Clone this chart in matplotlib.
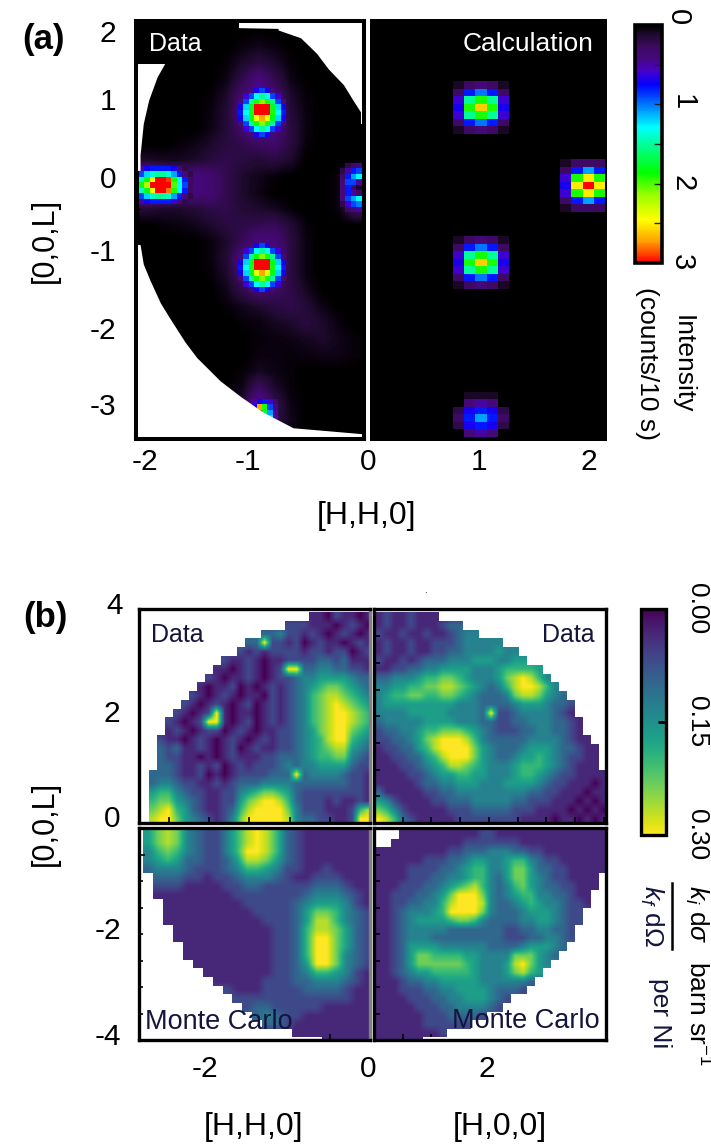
import numpy as np
import matplotlib
matplotlib.use('Agg')
import matplotlib.pyplot as plt
from matplotlib.cm import ScalarMappable
from matplotlib.colors import LinearSegmentedColormap, Normalize
from matplotlib.ticker import MultipleLocator

plt.rcParams['font.family'] = ['Liberation Sans', 'DejaVu Sans']
plt.rcParams['mathtext.fontset'] = 'custom'
plt.rcParams['mathtext.rm'] = 'Liberation Sans'
plt.rcParams['mathtext.it'] = 'Liberation Sans:italic'

W, H = 711, 1144
NAVY = '#14143c'

# ---- panel (a), broad haze, in 1/70 of counts/10 s
A_HAZE = [
    [0, 0, 0, 0, 0, 0, 0, 0, 0, 0, 0, 0, 0, 0],
    [0, 0, 0, 0, 0, 0, 3, 5, 3, 0, 0, 0, 0, 0],
    [0, 0, 0, 0, 0, 2, 8, 12, 8, 2, 0, 0, 0, 0],
    [0, 0, 0, 0, 0, 4, 15, 30, 15, 4, 0, 0, 0, 0],
    [0, 0, 0, 0, 2, 8, 25, 40, 25, 8, 2, 0, 0, 0],
    [0, 0, 0, 0, 3, 10, 30, 50, 30, 10, 3, 0, 0, 0],
    [0, 0, 0, 0, 4, 10, 25, 40, 30, 12, 3, 0, 0, 0],
    [0, 0, 2, 4, 8, 12, 15, 20, 22, 12, 2, 0, 0, 0],
    [8, 6, 6, 8, 12, 15, 12, 10, 12, 8, 0, 0, 0, 0],
    [45, 40, 30, 30, 25, 15, 8, 5, 2, 0, 0, 0, 3, 30],
    [45, 40, 30, 30, 25, 15, 8, 4, 0, 0, 0, 0, 3, 30],
    [10, 8, 8, 10, 14, 15, 10, 8, 6, 2, 0, 0, 3, 20],
    [0, 2, 3, 5, 8, 12, 14, 16, 18, 10, 2, 0, 0, 0],
    [0, 0, 0, 0, 3, 8, 18, 30, 28, 12, 3, 0, 0, 0],
    [0, 0, 0, 0, 3, 10, 30, 50, 35, 12, 3, 0, 0, 0],
    [0, 0, 0, 0, 2, 8, 25, 40, 30, 12, 3, 0, 0, 0],
    [0, 0, 0, 0, 0, 5, 15, 25, 20, 14, 6, 0, 0, 0],
    [0, 0, 0, 0, 0, 2, 5, 8, 12, 15, 10, 4, 0, 0],
    [0, 0, 0, 0, 0, 0, 2, 3, 6, 8, 12, 8, 3, 0],
    [0, 0, 0, 0, 0, 0, 0, 2, 3, 4, 6, 8, 5, 2],
    [0, 0, 0, 0, 0, 0, 0, 3, 3, 2, 3, 4, 4, 2],
    [0, 0, 0, 0, 0, 0, 2, 6, 4, 2, 0, 0, 0, 0],
    [0, 0, 0, 0, 0, 0, 5, 20, 8, 2, 0, 0, 0, 0],
    [0, 0, 0, 0, 0, 0, 10, 40, 15, 4, 0, 0, 0, 0],
    [0, 0, 0, 0, 0, 0, 8, 30, 15, 5, 0, 0, 0, 0],
    [0, 0, 0, 0, 0, 0, 0, 0, 0, 0, 0, 0, 0, 0],
]

# peaks, in tenths of counts/10 s, 0 = see through to the haze
PEAK_M1 = [
    [0, 0, 4, 7, 9, 7, 4, 0, 0],
    [0, 6, 9, 13, 15, 13, 9, 6, 0],
    [4, 9, 15, 19, 21, 19, 15, 9, 4],
    [7, 12, 18, 30, 30, 30, 18, 12, 7],
    [8, 13, 19, 30, 30, 30, 19, 13, 8],
    [7, 12, 18, 24, 27, 24, 18, 12, 7],
    [4, 9, 15, 19, 21, 19, 15, 9, 4],
    [0, 6, 9, 13, 15, 13, 9, 6, 0],
    [0, 0, 4, 7, 9, 7, 4, 0, 0],
]
PEAK_M2 = [
    [5, 7, 8, 8, 8, 8, 7, 4, 2, 0],
    [9, 12, 14, 15, 15, 14, 11, 8, 4, 2],
    [14, 18, 24, 30, 30, 29, 19, 13, 8, 3],
    [18, 22, 30, 30, 30, 30, 20, 13, 9, 3],
    [14, 18, 24, 30, 30, 28, 19, 13, 8, 3],
    [9, 12, 14, 15, 15, 14, 11, 8, 4, 2],
    [5, 7, 8, 8, 8, 8, 6, 4, 2, 0],
]
PEAK_ZERO = [
    [0, 2, 3, 4],
    [2, 5, 8, 9],
    [3, 8, 11, 13],
    [4, 9, 9, 5],
    [4, 8, 3, 1],
    [4, 8, 5, 3],
    [4, 9, 11, 13],
    [2, 6, 9, 10],
    [0, 3, 4, 5],
]
PEAK_M3 = [
    [3, 5, 7, 8, 6, 3],
    [4, 7, 27, 19, 9, 4],
    [4, 8, 29, 17, 11, 5],
    [3, 6, 12, 13, 12, 5],
]

# white parts of the data panel: L row and the H where the data starts or stops
UPPER_RIGHT_L = [2.12, 2.03, 2.02, 2.0, 1.9, 1.7, 1.5, 1.3, 1.1, 0.95, 0.8]
UPPER_RIGHT_H = [-1.22, -1.22, -0.85, -0.85, -0.64, -0.49, -0.38, -0.24, -0.15, -0.08, -0.08]
UPPER_LEFT_L = [1.57, 1.4, 1.1, 0.8, 0.4, 0.2]
UPPER_LEFT_H = [-1.91, -1.98, -2.06, -2.11, -2.14, -2.14]
LOWER_LEFT_L = [-0.75, -1.0, -1.2, -1.5, -1.7, -2.0, -2.2, -2.5, -2.7, -2.9, -3.1, -3.18, -3.26]
LOWER_LEFT_H = [-2.14, -2.11, -2.05, -1.95, -1.86, -1.72, -1.61, -1.39, -1.2, -0.99, -0.71, -0.03, -0.03]

CALC_11 = [
    [0, 1, 3, 4, 3, 1, 0],
    [0, 3, 8, 10, 8, 3, 0],
    [0, 6, 15, 19, 15, 6, 0],
    [0, 7, 19, 26, 19, 7, 0],
    [0, 6, 15, 19, 15, 6, 0],
    [0, 3, 8, 10, 8, 3, 0],
    [0, 1, 3, 4, 3, 1, 0],
]
CALC_20 = [
    [0, 1, 3, 3, 3],
    [0, 3, 8, 11, 8],
    [0, 6, 19, 25, 19],
    [0, 7, 25, 30, 25],
    [0, 6, 19, 25, 19],
    [0, 3, 8, 11, 8],
    [0, 1, 3, 3, 3],
]
CALC_13 = [
    [0, 0, 1, 1, 1, 0, 0],
    [0, 0, 4, 5, 4, 0, 0],
    [0, 2, 7, 8, 7, 2, 0],
    [0, 3, 8, 11, 8, 3, 0],
    [0, 2, 7, 8, 7, 2, 0],
    [0, 0, 4, 5, 4, 0, 0],
]

# ---- panel (b), one digit per cell, 0..9 = 0..0.30, dot = no data
B_DATA_LEFT = [
    ".....................11021101",
    "..................22211101210",
    "...............33422121012101",
    ".............3392212012110121",
    "............21212222122122012",
    "..........2112101122223323111",
    ".........11012101299334433221",
    "........210112101223445555433",
    ".......1011201012123456776543",
    "......21012101102123467887654",
    ".....210121012012123467898765",
    "....2101291011012123467899876",
    "...21012991012012123467899876",
    "...12101220121011223457899765",
    "..211012101210121223456899654",
    "..323112101201211223456788543",
    "..322110101211122333456677432",
    "..332112120121222343445555322",
    ".3332112010122223339344443221",
    ".3443221121233344443333333221",
    ".5664322112245677653222222221",
    ".6775432112257899863222121121",
    ".7896532112368999974222111268",
    ".8997543212479999984332211299",
]
B_DATA_RIGHT = [
    "12112111.....................",
    "12112111233..................",
    "2112112112344................",
    "1211211222344444.............",
    "121121122334444544...........",
    "2112123334445554455..........",
    "112233445555444566665........",
    "3344456677654445789864.......",
    "44556677887654346899864......",
    "456677667765433347887543.....",
    "4555555555444333345554332....",
    "4444555554444392234444321....",
    "34444455554443322334443321...",
    "23344566777654322233443321...",
    "223345789998643333344443211..",
    "1223356899997543334555433211.",
    "1122335689997543345565432211.",
    "1112234568876544456665432111.",
    "11112234556655444566543221111",
    "11111233445554445555432211101",
    "31111122334444444443322111011",
    "54211112233344444332221110101",
    "76421111122233333222111101010",
    "98632111112222222211110110101",
]
B_MC_LEFT = [
    "57874322468986321111111.",
    "57874322468986321111111.",
    "467643224699863211111111",
    "45653322358875321111111",
    "34443222346654221121111",
    ".3332212234443211222111",
    ".2221111223322222333211",
    ".1111111122222223444321",
    "..111111112222234555421",
    "..111111111222235776432",
    "..111111111122235886432",
    "...11111111112236887532",
    "...11111111112236997532",
    "....1111111112236997532",
    "....1111111112236997432",
    ".....111111112235997432",
    "......11111112234665421",
    ".......1111122233444321",
    "........211122223333211",
    ".........22222222222211",
    "..........2332222211111",
    "...........343221111111",
    "............33211111111",
    "...............11111111",
    "..................11111",
]
B_MC_RIGHT = [
    "...11111111112211111111111111",
    "..111111111222222211111111111",
    "11111111122333444332211111111",
    "11111122233455445664322111111",
    "11112222334566445775332211111",
    "1111222334456643577543221111",
    "1112223345678643467543322111",
    "112223345799974345664433211",
    "112233446899984334565443221",
    "11234445699997433345554322",
    "11234555567764333344554322",
    "1123444443333333223344332",
    "1123444333333333222334432",
    "112355554444443333455543",
    "11235776666554444777543",
    "1123577777765444589754",
    "112345566666544457865",
    "11123344555554444443",
    "1112223344555543332",
    "11112223344555432",
    "1111122233444432",
    "11111122233332",
    "111111222222",
    "111111112",
    "111111",
]

A_CMAP = LinearSegmentedColormap.from_list('a_rainbow', [
    (0.0, '#000000'), (0.04, '#200a30'), (0.09, '#3c0a60'), (0.14, '#46087c'), (0.19, '#4a00c8'),
    (0.25, '#0000ff'), (0.34, '#0080ff'), (0.43, '#00ffff'), (0.52, '#00ff80'),
    (0.62, '#00ff00'), (0.72, '#a0ff00'), (0.82, '#ffff00'), (0.91, '#ffa000'),
    (1.0, '#ff0000')])
A_NORM = Normalize(0, 3)
B_NORM = Normalize(0, 0.30)

fig = plt.figure(figsize=(W / 100, H / 100), dpi=100)


def px_axes(x0, y0, x1, y1):
    return fig.add_axes([x0 / W, 1 - y1 / H, (x1 - x0) / W, (y1 - y0) / H])


def label(x, y, s, size=21.5, **kw):
    kw.setdefault('ha', 'center')
    kw.setdefault('va', 'center')
    fig.text(x / W, 1 - y / H, s, fontsize=size, **kw)


def draw_patch(ax, patch, hc, lc, dh, dl):
    z = np.ma.masked_equal(np.array(patch, float), 0) / 10
    rows, cols = z.shape
    ax.imshow(z, cmap=A_CMAP, norm=A_NORM, aspect='auto', interpolation='nearest', zorder=2,
              extent=[hc - cols * dh / 2, hc + cols * dh / 2, lc - rows * dl / 2, lc + rows * dl / 2])


def draw_digits(ax, rows, h0, l0, dh, dl):
    ncol = max(len(r) for r in rows)
    z = np.full((len(rows), ncol), np.nan)
    for i, r in enumerate(rows):
        for j, c in enumerate(r):
            if c != '.':
                z[i, j] = int(c) / 9 * 0.30
    # pad the blank cells with the row's edge value so bilinear smoothing keeps the rim,
    # the blanks are painted white again on top
    filled = z.copy()
    for row in filled:
        good = np.flatnonzero(~np.isnan(row))
        row[:good[0]] = row[good[0]]
        row[good[-1] + 1:] = row[good[-1]]
    ext = [h0, h0 + ncol * dh, l0 - len(rows) * dl, l0]
    ax.imshow(filled, cmap='viridis', norm=B_NORM, aspect='auto', interpolation='bilinear', extent=ext)
    white = np.ones(z.shape + (4,))
    white[..., 3] = np.isnan(z)
    ax.imshow(white, aspect='auto', interpolation='nearest', extent=ext, zorder=2)


def frame(ax, lw=2.2):
    for s in ax.spines.values():
        s.set_linewidth(lw)
        s.set_zorder(6)


# ---- (a) data
ax = px_axes(136, 21, 364, 439)
ax.set_facecolor('black')
ax.imshow(np.array(A_HAZE) / 70, cmap=A_CMAP, norm=A_NORM, aspect='auto', interpolation='bilinear',
          extent=[-2.152, -0.059, -3.32, 2.09], zorder=1)
draw_patch(ax, PEAK_M1, -1.0, 0.945, 0.0498, 0.0692)
draw_patch(ax, PEAK_M1, -1.0, -1.05, 0.0498, 0.0692)
draw_patch(ax, PEAK_M2, -1.903, 0.008, 0.0498, 0.0692)
draw_patch(ax, PEAK_ZERO, -0.168, -0.017, 0.0498, 0.0692)
draw_patch(ax, PEAK_M3, -1.003, -2.874, 0.0498, 0.0692)
XR = -0.047
XL = -2.178
ax.fill_betweenx(UPPER_RIGHT_L, UPPER_RIGHT_H, XR, color='white', lw=0, zorder=3)
ax.fill_betweenx(UPPER_LEFT_L, XL, UPPER_LEFT_H, color='white', lw=0, zorder=3)
ax.fill_betweenx(LOWER_LEFT_L, XL, LOWER_LEFT_H, color='white', lw=0, zorder=3)
ax.set_xlim(XL, XR)
ax.set_ylim(-3.244, 2.115)
ax.xaxis.set_major_locator(MultipleLocator(1))
ax.xaxis.set_minor_locator(MultipleLocator(0.1))
ax.yaxis.set_major_locator(MultipleLocator(1))
ax.yaxis.set_minor_locator(MultipleLocator(0.1))
ax.tick_params(which='major', direction='in', length=6, width=0.8, top=True, labelbottom=False, labelleft=False, color='black')
ax.tick_params(which='minor', direction='in', length=3, width=0.8, top=True, color='black')
for t in ax.xaxis.get_ticklines(minor=True) + ax.yaxis.get_ticklines(minor=True) + ax.xaxis.get_ticklines() + ax.yaxis.get_ticklines():
    t.set_zorder(4)
frame(ax, 2.9)
label(175, 44, 'Data', 18, color='white')

# ---- (a) calculation
ax = px_axes(370, 19, 607, 441)
ax.set_facecolor('black')
draw_patch(ax, CALC_11, 1.0, 1.01, 0.104, 0.0957)
draw_patch(ax, CALC_11, 1.0, -0.987, 0.104, 0.0957)
draw_patch(ax, CALC_13, 1.0, -2.94, 0.104, 0.0957)
draw_patch(ax, CALC_20, 1.9, 0.0, 0.104, 0.0957)
ax.set_xlim(-0.047, 2.189)
ax.set_ylim(-3.282, 2.149)
ax.set_xticks([])
ax.set_yticks([])
for s in ax.spines.values():
    s.set_visible(False)
label(528, 44, 'Calculation', 19, color='white')

# ---- (a) colourbar
cax = px_axes(635, 25, 662, 263)
cb = fig.colorbar(ScalarMappable(A_NORM, A_CMAP), cax=cax)
cax.invert_yaxis()
cb.set_ticks([0.5, 1, 1.5, 2, 2.5])
cb.ax.tick_params(direction='in', length=6, width=1, labelright=False, color='#222222')
cb.outline.set_linewidth(2.6)
for x, y, s in [(678, 17, '0'), (683, 102, '1'), (683, 183, '2'), (682, 262, '3')]:
    label(x, y, s, 21, rotation=-90)
label(683, 364, 'Intensity', 19, rotation=-90)
label(647, 364, '(counts/10 s)', 19, rotation=-90)

for y, s in [(34, '2'), (102, '1'), (180, '0')]:
    label(108, y, s)
for y, s in [(253, '-1'), (331, '-2'), (407, '-3')]:
    label(103, y, s)
for x, s in [(145, '-2'), (248, '-1'), (368, '0'), (479, '1'), (589, '2')]:
    label(x, 462, s)
label(366, 516, '[H,H,0]', 23)
label(45, 240, '[0,0,L]', 22, rotation=90)
label(43, 39, '(a)', 25, fontweight='bold')

# ---- (b) four quadrants
panels = [
    ((139, 609, 370, 823), B_DATA_LEFT, -2.848, 3.95, 0.0988, 0.1646, (-2.87, 0), (0, 4.01)),
    ((374, 609, 606, 823), B_DATA_RIGHT, 0.017, 3.95, 0.139, 0.1646, (0, 4.04), (0, 4.01)),
    ((139, 828, 370, 1040), B_MC_LEFT, -2.82, -0.04, 0.1235, 0.163, (-2.87, 0), (-4, 0)),
    ((374, 828, 606, 1040), B_MC_RIGHT, 0.017, -0.04, 0.139, 0.163, (0, 4.04), (-4, 0)),
]
for k, (rect, rows, h0, l0, dh, dl, xlim, ylim) in enumerate(panels):
    ax = px_axes(*rect)
    draw_digits(ax, rows, h0, l0, dh, dl)
    ax.set_xlim(*xlim)
    ax.set_ylim(*ylim)
    ax.xaxis.set_major_locator(MultipleLocator(0.5))
    ax.yaxis.set_major_locator(MultipleLocator(0.5))
    ax.tick_params(direction='in', length=4, width=1.2, labelbottom=False, labelleft=False)
    for t in ax.xaxis.get_ticklines() + ax.yaxis.get_ticklines():
        t.set_zorder(4)
    frame(ax, 2.4)
    if k % 2 == 0:
        ax.spines['right'].set_color('#808080')
label(177, 635, 'Data', 18, color=NAVY)
label(568, 635, 'Data', 18, color=NAVY)
label(219, 1022, 'Monte Carlo', 19.5, color=NAVY, zorder=5)
label(526, 1021, 'Monte Carlo', 19.5, color=NAVY, zorder=5)
label(427, 590, '.', 8, color='#333333')

# ---- (b) colourbar
cax = px_axes(641, 609, 666, 835)
cb = fig.colorbar(ScalarMappable(B_NORM, 'viridis'), cax=cax)
cax.invert_yaxis()
cb.set_ticks([0, 0.15, 0.30])
cb.ax.tick_params(direction='in', length=6, width=2, labelright=False)
cb.outline.set_linewidth(2.4)
for y, s in [(609, '0.00'), (722, '0.15'), (835, '0.30')]:
    label(697, y, s, 19, rotation=-90)
label(697, 914, r'$k_i$ d$\sigma$', 19, rotation=-90)
label(652, 916, r'$k_f$ d$\Omega$', 19, rotation=-90, color=NAVY)
fig.add_artist(plt.Line2D([672 / W, 672 / W], [1 - 883 / H, 1 - 949 / H], color='black', lw=1.8))
label(697, 1013, r'barn sr$^{-1}$', 19, rotation=-90)
label(660, 1013, 'per Ni', 19, rotation=-90, color=NAVY)

for y, x, s in [(606, 115, '4'), (714, 112, '2'), (819, 112, '0'), (931, 108, '-2'), (1037, 108, '-4')]:
    label(x, y, s)
for x, s in [(205, '-2'), (368, '0'), (487, '2')]:
    label(x, 1069, s)
label(253, 1127, '[H,H,0]', 23)
label(500, 1127, '[H,0,0]', 23)
label(45, 823, '[0,0,L]', 22, rotation=90)
label(45, 618, '(b)', 25, fontweight='bold')

fig.savefig('out.png', dpi=100)
